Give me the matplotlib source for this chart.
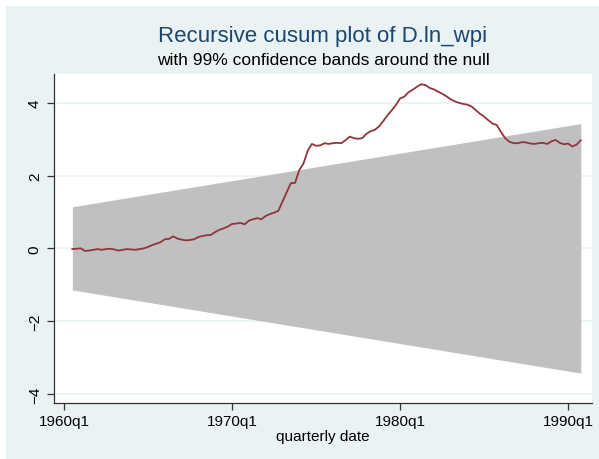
import numpy as np
import pandas as pd
import matplotlib
matplotlib.use("Agg")
import matplotlib.pyplot as plt
from matplotlib.patches import Rectangle

plt.rcParams['font.family'] = ['Liberation Sans', 'DejaVu Sans']

# quarterly dates 1960q3 .. 1990q4 (Stata %tq: 1960q1 = 0)
dates = pd.period_range('1960Q3', '1990Q4', freq='Q')
tq = np.array([(p.year - 1960) * 4 + p.quarter - 1 for p in dates])

# recursive cusum of D.ln_wpi
cusum = [
    -0.02, -0.01, 0.00, -0.07, -0.06, -0.04, -0.02, -0.04, -0.02, -0.01,
    -0.03, -0.06, -0.04, -0.02, -0.03, -0.04, -0.02, 0.00, 0.04, 0.09,
    0.13, 0.17, 0.25, 0.26, 0.33, 0.27, 0.24, 0.22, 0.23, 0.25,
    0.31, 0.34, 0.36, 0.37, 0.45, 0.51, 0.55, 0.60, 0.67, 0.68,
    0.70, 0.66, 0.76, 0.80, 0.83, 0.80, 0.89, 0.94, 0.98, 1.03,
    1.28, 1.54, 1.79, 1.80, 2.15, 2.33, 2.68, 2.87, 2.82, 2.83,
    2.89, 2.87, 2.89, 2.90, 2.89, 2.97, 3.07, 3.03, 3.01, 3.03,
    3.15, 3.22, 3.26, 3.35, 3.50, 3.66, 3.79, 3.94, 4.12, 4.17,
    4.29, 4.36, 4.44, 4.51, 4.49, 4.41, 4.37, 4.31, 4.25, 4.18,
    4.10, 4.04, 4.00, 3.97, 3.95, 3.90, 3.80, 3.70, 3.62, 3.52,
    3.43, 3.39, 3.20, 3.03, 2.93, 2.89, 2.89, 2.92, 2.91, 2.88,
    2.87, 2.89, 2.90, 2.87, 2.94, 2.98, 2.90, 2.86, 2.88, 2.80,
    2.85, 2.97,
]

# 99% confidence band end points (straight lines)
band_t = [tq[0], tq[-1]]
band_upper = [1.143, 3.429]
band_lower = [-1.143, -3.429]

xticks = [0, 40, 80, 120]
xticklabels = ['1960q1', '1970q1', '1980q1', '1990q1']
yticks = [-4, -2, 0, 2, 4]
yticklabels = ['\u22124', '\u22122', '0', '2', '4']

bg = '#EAF2F3'
W, H = 599, 460
fig = plt.figure(figsize=(W / 100, H / 100), dpi=100, facecolor='white')
fig.patches.append(Rectangle((6 / W, 0), 1, 1 - 7 / H, transform=fig.transFigure,
                             facecolor=bg, edgecolor='none', zorder=-10))

ax = fig.add_axes([54.3 / W, 1 - 404 / H, (591.7 - 54.3) / W, (404 - 74.7) / H])
ax.set_facecolor('white')

for y in yticks:
    ax.axhline(y, color=bg, lw=1.1, zorder=0)

ax.fill_between(band_t, band_lower, band_upper, color='#C0C0C0', lw=0, zorder=1)
ax.plot(tq, cusum, color='#90353B', lw=1.3, zorder=2)

ax.set_xlim(-2.3, 125.6)
ax.set_ylim(-4.25, 4.8)
ax.set_xticks(xticks)
ax.set_xticklabels(xticklabels)
ax.set_yticks(yticks)
ax.set_yticklabels(yticklabels, rotation=90, va='center')
ax.tick_params(axis='both', labelsize=11, length=5, width=0.9, color='#333333', pad=3)
ax.tick_params(axis='y', pad=4)

for s in ['top', 'right']:
    ax.spines[s].set_visible(False)
for s in ['left', 'bottom']:
    ax.spines[s].set_color('#333333')
    ax.spines[s].set_linewidth(0.9)

ax.set_xlabel('quarterly date', fontsize=11, labelpad=1)

cx = (54.3 + 591.7) / 2 / W
fig.text(cx, 1 - 42.3 / H, 'Recursive cusum plot of D.ln_wpi', ha='center', va='baseline',
         fontsize=16, color='#1A476F')
fig.text(cx, 1 - 65 / H, 'with 99% confidence bands around the null', ha='center',
         va='baseline', fontsize=12.5, color='black')

fig.savefig('out.png', dpi=100, facecolor='white')
